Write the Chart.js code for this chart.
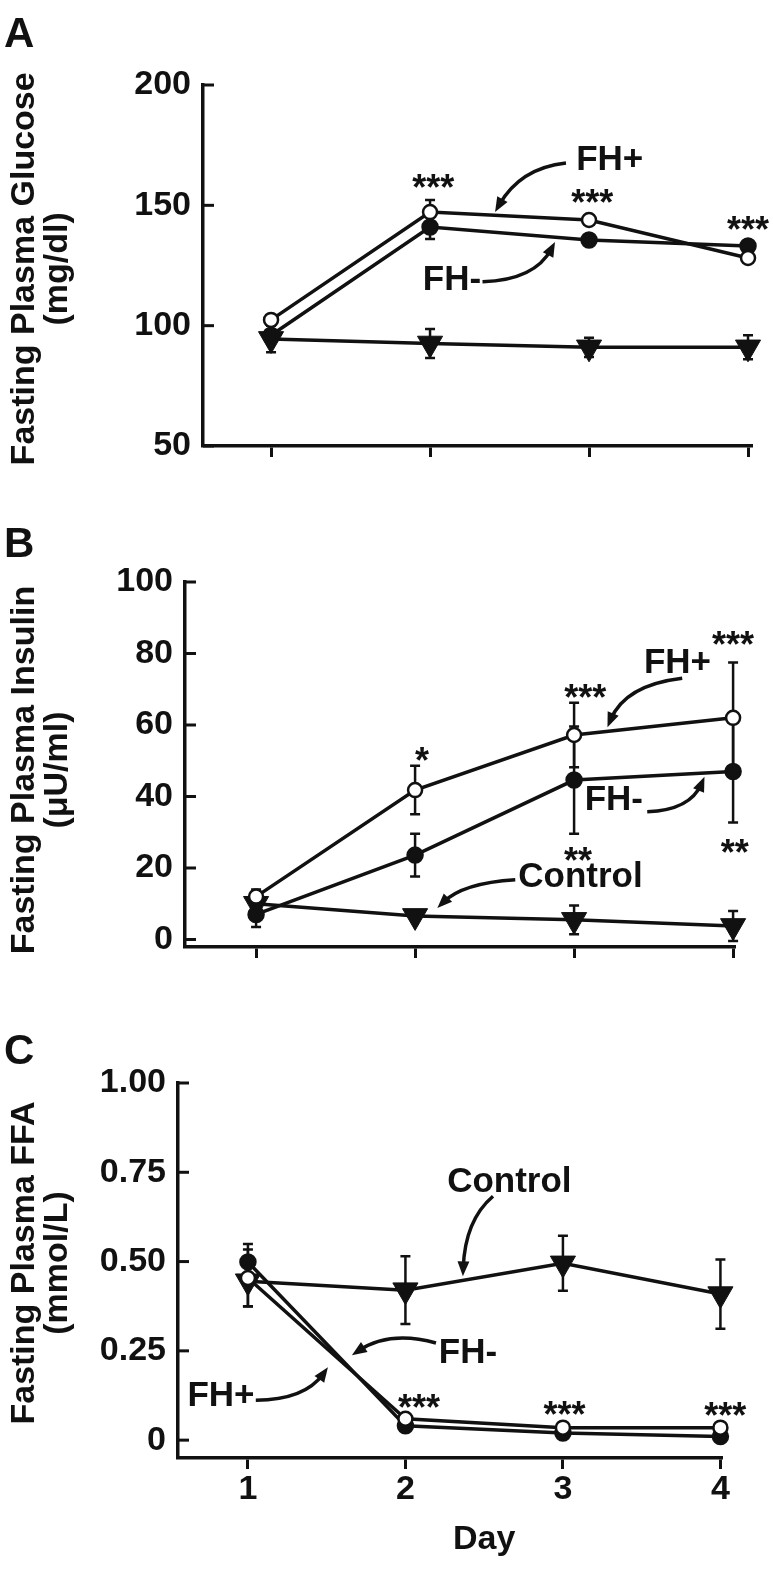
<!DOCTYPE html>
<html>
<head>
<meta charset="utf-8">
<script src="https://cdn.jsdelivr.net/npm/chart.js@4.4.1/dist/chart.umd.min.js"></script>
<style>
    body { margin: 0; background: #fff; width: 773px; height: 1570px; position: relative; overflow: hidden; }
    canvas { position: absolute; left: 0; }
</style>
</head>
<body>
<canvas id="glucoseChart" width="773" height="490" style="top:0px"></canvas>
<canvas id="insulinChart" width="773" height="500" style="top:490px"></canvas>
<canvas id="ffaChart" width="773" height="580" style="top:990px"></canvas>
<script>
const FONT = '"Liberation Sans", Arial, Helvetica, sans-serif';
const INK = '#111';

const days = [1, 2, 3, 4];

// A - fasting plasma glucose (mg/dl)
const glucoseFHplus = [102.4, 147.2, 143.9, 128.1];
const glucoseFHplusErr = [2, 5, 2, 2];
const glucoseFHminus = [96, 141, 135.6, 133.1];
const glucoseFHminusErr = [2, 5, 2, 2];
const glucoseControl = [94.5, 92.6, 91, 91];
const glucoseControlErr = [5.5, 6, 4, 5];
const glucoseTicks = [50, 100, 150, 200];

// B - fasting plasma insulin (uU/ml)
const insulinFHplus = [12, 41.8, 57.2, 62];
const insulinFHplusErr = [2, 6.8, 9, 15.5];
const insulinFHminus = [7, 23.6, 44.6, 47];
const insulinFHminusErr = [3.5, 6, 15, 14.3];
const insulinControl = [10, 6.6, 5.5, 3.8];
const insulinControlErr = [2, 0, 4, 4.2];
const insulinTicks = [0, 20, 40, 60, 80, 100];

// C - fasting plasma FFA (mmol/L)
const ffaFHplus = [0.454, 0.06, 0.035, 0.035];
const ffaFHplusErr = [0.08, 0.01, 0.01, 0.005];
const ffaFHminus = [0.499, 0.04, 0.02, 0.01];
const ffaFHminusErr = [0.05, 0.01, 0.01, 0.005];
const ffaControl = [0.445, 0.42, 0.495, 0.409];
const ffaControlErr = [0.07, 0.095, 0.077, 0.097];
const ffaTicks = [0, 0.25, 0.5, 0.75, 1];

const openCircle = { pointStyle: 'circle', pointRadius: 7, pointBackgroundColor: '#fff' };
const filledCircle = { pointStyle: 'circle', pointRadius: 7.5, pointBackgroundColor: INK };
const downTriangle = { pointStyle: 'triangle', pointRotation: 180, pointRadius: 14.5, pointBackgroundColor: INK, pointBorderWidth: 1 };

function series(label, values, errs, style) {
    return Object.assign({
        label,
        data: days.map((d, i) => ({ x: d, y: values[i] })),
        errors: errs,
        borderColor: INK,
        borderWidth: 3.5,
        pointBorderColor: INK,
        pointBorderWidth: 2.5,
        fill: false,
        clip: false,
        tension: 0
    }, style);
}

// error bars go under the markers
const errorBars = {
    id: 'errorBars',
    beforeDatasetsDraw(chart) {
        const { ctx } = chart;
        const y = chart.scales.y;
        ctx.save();
        ctx.strokeStyle = INK;
        ctx.lineWidth = 2.5;
        chart.data.datasets.forEach((ds, i) => {
            const meta = chart.getDatasetMeta(i);
            ds.errors.forEach((e, j) => {
                if (!e) return;
                const px = meta.data[j].x;
                const v = ds.data[j].y;
                const top = y.getPixelForValue(v + e);
                const bot = y.getPixelForValue(v - e);
                ctx.beginPath();
                ctx.moveTo(px, top); ctx.lineTo(px, bot);
                ctx.moveTo(px - 5, top); ctx.lineTo(px + 5, top);
                ctx.moveTo(px - 5, bot); ctx.lineTo(px + 5, bot);
                ctx.stroke();
            });
        });
        ctx.restore();
    }
};

// panel letter, y title, inward ticks, labels, stars and arrows
const figureText = {
    id: 'figureText',
    afterDraw(chart, args, opts) {
        const { ctx, chartArea } = chart;
        const x = chart.scales.x, y = chart.scales.y;
        const P = (d, v) => [x.getPixelForValue(d), y.getPixelForValue(v)];
        ctx.save();
        ctx.fillStyle = INK;
        ctx.strokeStyle = INK;

        ctx.lineWidth = 3;
        y.ticks.forEach(t => {
            const py = y.getPixelForValue(t.value);
            ctx.beginPath();
            ctx.moveTo(chartArea.left, py);
            ctx.lineTo(chartArea.left + 11, py);
            ctx.stroke();
        });

        ctx.font = `bold 42px ${FONT}`;
        ctx.textAlign = 'left';
        ctx.textBaseline = 'alphabetic';
        ctx.fillText(opts.letter, 4, opts.letterY);

        const cy = y.getPixelForValue(opts.titleAt);
        ctx.font = `bold 34px ${FONT}`;
        ctx.textAlign = 'center';
        ctx.textBaseline = 'middle';
        opts.title.forEach((line, i) => {
            ctx.save();
            ctx.translate(25 + i * 33, cy);
            ctx.rotate(-Math.PI / 2);
            ctx.fillText(line, 0, 0);
            ctx.restore();
        });

        if (opts.xTitle) {
            ctx.fillText(opts.xTitle, x.getPixelForValue(opts.xTitleAt), opts.xTitleY);
        }

        ctx.font = `bold 35px ${FONT}`;
        opts.labels.forEach(l => {
            const [px, py] = P(l.at[0], l.at[1]);
            ctx.fillText(l.text, px, py);
        });

        ctx.font = `bold 36px ${FONT}`;
        ctx.textBaseline = 'alphabetic';
        opts.stars.forEach(s => {
            const [px, py] = P(s.at[0], s.at[1]);
            for (let k = 0; k < s.n; k++) {
                ctx.fillText('*', px + (k - (s.n - 1) / 2) * 14, py + 20);
            }
        });

        ctx.lineWidth = 3.5;
        opts.arrows.forEach(a => {
            const [x0, y0] = P(a.from[0], a.from[1]);
            const [x1, y1] = P(a.via[0], a.via[1]);
            const [x2, y2] = P(a.to[0], a.to[1]);
            const ang = Math.atan2(y2 - y1, x2 - x1);
            ctx.beginPath();
            ctx.moveTo(x0, y0);
            ctx.quadraticCurveTo(x1, y1, x2 - 8 * Math.cos(ang), y2 - 8 * Math.sin(ang));
            ctx.stroke();
            ctx.beginPath();
            ctx.moveTo(x2, y2);
            ctx.lineTo(x2 - 16 * Math.cos(ang - 0.38), y2 - 16 * Math.sin(ang - 0.38));
            ctx.lineTo(x2 - 16 * Math.cos(ang + 0.38), y2 - 16 * Math.sin(ang + 0.38));
            ctx.closePath();
            ctx.fill();
        });
        ctx.restore();
    }
};

function buildChart(id, cfg) {
    const tickFont = { family: FONT, size: 34, weight: 'bold' };
    return new Chart(document.getElementById(id), {
        type: 'line',
        data: { datasets: cfg.datasets },
        options: {
            responsive: false,
            animation: false,
            events: [],
            devicePixelRatio: 1,
            layout: { padding: cfg.padding },
            scales: {
                x: {
                    type: 'linear',
                    min: cfg.xMin,
                    max: cfg.xMax,
                    afterBuildTicks: s => { s.ticks = days.map(v => ({ value: v })); },
                    afterFit: s => { s.height = cfg.xHeight; },
                    grid: { drawOnChartArea: false, drawTicks: true, tickLength: 11, tickWidth: 3, tickColor: INK, color: INK },
                    border: { display: true, color: INK, width: 3.5 },
                    ticks: { display: cfg.xLabels, font: tickFont, color: INK, padding: 0 }
                },
                y: {
                    type: 'linear',
                    min: cfg.yMin,
                    max: cfg.yMax,
                    afterBuildTicks: s => { s.ticks = cfg.yTicks.map(v => ({ value: v })); },
                    afterFit: s => { s.width = 100; },
                    grid: { drawOnChartArea: false, drawTicks: false, color: INK },
                    border: { display: true, color: INK, width: 3.5 },
                    ticks: { font: tickFont, color: INK, padding: 12, callback: cfg.fmt || (v => String(v)) }
                }
            },
            plugins: {
                legend: { display: false },
                tooltip: { enabled: false },
                figureText: cfg.text
            }
        },
        plugins: [errorBars, figureText]
    });
}

buildChart('glucoseChart', {
    datasets: [
        series('FH+', glucoseFHplus, glucoseFHplusErr, openCircle),
        series('FH-', glucoseFHminus, glucoseFHminusErr, filledCircle),
        series('Control', glucoseControl, glucoseControlErr, downTriangle)
    ],
    padding: { left: 103, right: 21, top: 85, bottom: 14 },
    xHeight: 30, xLabels: false, xMin: 0.572, xMax: 4.025,
    yMin: 50, yMax: 200, yTicks: glucoseTicks,
    text: {
        letter: 'A', letterY: 47,
        title: ['Fasting Plasma Glucose', '(mg/dl)'], titleAt: 123.6,
        labels: [
            { text: 'FH+', at: [3.13, 168.8] },
            { text: 'FH-', at: [2.138, 119] }
        ],
        stars: [
            { n: 3, at: [2.02, 160.5] },
            { n: 3, at: [3.02, 154.3] },
            { n: 3, at: [4.0, 143.1] }
        ],
        arrows: [
            { from: [2.855, 167.6], via: [2.566, 165.5], to: [2.409, 147.2] },
            { from: [2.33, 118.2], via: [2.66, 119], to: [2.786, 134.8] }
        ]
    }
});

buildChart('insulinChart', {
    datasets: [
        series('FH+', insulinFHplus, insulinFHplusErr, openCircle),
        series('FH-', insulinFHminus, insulinFHminusErr, filledCircle),
        series('Control', insulinControl, insulinControlErr, downTriangle)
    ],
    padding: { left: 85, right: 38, top: 92, bottom: 13 },
    xHeight: 30, xLabels: false, xMin: 0.553, xMax: 4.012,
    yMin: -2.1, yMax: 100, yTicks: insulinTicks,
    text: {
        letter: 'B', letterY: 67,
        title: ['Fasting Plasma Insulin', '(\u03bcU/ml)'], titleAt: 47.4,
        labels: [
            { text: 'FH+', at: [3.65, 77.3] },
            { text: 'FH-', at: [3.25, 39] },
            { text: 'Control', at: [3.04, 17.5] }
        ],
        stars: [
            { n: 1, at: [2.044, 52.2] },
            { n: 3, at: [3.07, 69.8] },
            { n: 3, at: [4.0, 84.6] },
            { n: 2, at: [3.025, 24.2] },
            { n: 2, at: [4.01, 26.4] }
        ],
        arrows: [
            { from: [3.68, 73.1], via: [3.32, 71.2], to: [3.21, 59.4] },
            { from: [3.46, 35.7], via: [3.73, 36.2], to: [3.82, 45.5] },
            { from: [2.63, 16.7], via: [2.3, 15.8], to: [2.14, 8.8] }
        ]
    }
});

buildChart('ffaChart', {
    datasets: [
        series('FH+', ffaFHplus, ffaFHplusErr, openCircle),
        series('FH-', ffaFHminus, ffaFHminusErr, filledCircle),
        series('Control', ffaControl, ffaControlErr, downTriangle)
    ],
    padding: { left: 78, right: 51, top: 93, bottom: 52 },
    xHeight: 60, xLabels: true, xMin: 0.556, xMax: 4.01,
    yMin: -0.05, yMax: 1, yTicks: ffaTicks,
    fmt: v => (v === 0 ? '0' : v.toFixed(2)),
    text: {
        letter: 'C', letterY: 74,
        title: ['Fasting Plasma FFA', '(mmol/L)'], titleAt: 0.496,
        xTitle: 'Day', xTitleAt: 2.5, xTitleY: 550,
        labels: [
            { text: 'Control', at: [2.66, 0.723] },
            { text: 'FH-', at: [2.397, 0.244] },
            { text: 'FH+', at: [0.829, 0.123] }
        ],
        stars: [
            { n: 3, at: [2.086, 0.112] },
            { n: 3, at: [3.01, 0.092] },
            { n: 3, at: [4.03, 0.09] }
        ],
        arrows: [
            { from: [2.556, 0.683], via: [2.378, 0.616], to: [2.365, 0.459] },
            { from: [2.194, 0.272], via: [1.9, 0.308], to: [1.66, 0.238] },
            { from: [1.05, 0.112], via: [1.36, 0.112], to: [1.508, 0.204] }
        ]
    }
});
</script>
</body>
</html>
